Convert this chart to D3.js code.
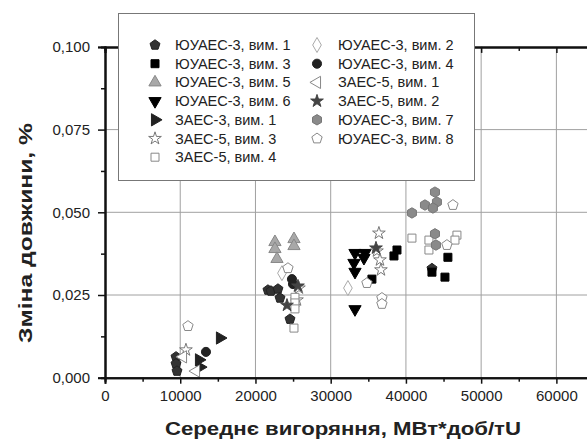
<!DOCTYPE html>
<html>
<head>
<meta charset="utf-8">
<script src="https://cdn.jsdelivr.net/npm/d3@7"></script>
<style>
  body { margin: 0; background: #fff; }
  text { font-family: "Liberation Sans", Arial, sans-serif; fill: #222; }
</style>
</head>
<body>
<div id="chart"></div>
<script>
const width = 587;
const height = 443;

// burnup (MW*day/tU), length change (%)
const yuaes3_1 = [[9440, 0.0063], [9440, 0.0042], [9570, 0.0020], [21660, 0.0265], [22060, 0.0262], [22990, 0.0268], [23260, 0.0241], [24590, 0.0177], [43460, 0.0330]];
const yuaes3_2 = [[23520, 0.0316], [32290, 0.0271]];
const yuaes3_3 = [[38810, 0.0386], [38410, 0.0368], [35480, 0.0298], [45580, 0.0364], [45190, 0.0304], [43460, 0.0319]];
const yuaes3_4 = [[13420, 0.0078], [24850, 0.0298], [24990, 0.0283]];
const yuaes3_5 = [[22590, 0.0410], [22590, 0.0389], [22860, 0.0359], [25120, 0.0419], [25120, 0.0398]];
const yuaes3_6 = [[33230, 0.0377], [34560, 0.0377], [34420, 0.0362], [33090, 0.0347], [33230, 0.0320], [33230, 0.0207]];
const zaes3_1 = [[15280, 0.0120], [12490, 0.0054], [12630, 0.0032]];
const zaes5_3 = [[10760, 0.0084], [25780, 0.0271], [25520, 0.0235], [36410, 0.0437], [36150, 0.0383], [36680, 0.0326], [36550, 0.0356]];
const zaes5_4 = [[25250, 0.0243], [25250, 0.0226], [25250, 0.0208], [25120, 0.0150], [40800, 0.0422], [43060, 0.0416], [43060, 0.0386], [46780, 0.0431], [46520, 0.0416]];
const zaes5_1 = [[12100, 0.0020], [10370, 0.0063]];
const zaes5_2 = [[25650, 0.0277], [24190, 0.0219], [36020, 0.0392]];
const yuaes3_7 = [[43860, 0.0561], [44120, 0.0531], [42530, 0.0522], [43590, 0.0513], [40800, 0.0498], [43860, 0.0435], [43990, 0.0401]];
const yuaes3_8 = [[11030, 0.0156], [24320, 0.0331], [34820, 0.0286], [36810, 0.0241], [36810, 0.0223], [46250, 0.0522], [45450, 0.0401]];

const xTicks = [0, 10000, 20000, 30000, 40000, 50000, 60000];
const yTicks = [0, 0.025, 0.05, 0.075, 0.1];

// polygon symbol for pentagon / hexagon
function polygon(n) {
    return {
        draw(context, size) {
            const r = Math.sqrt(2 * size / (n * Math.sin(2 * Math.PI / n)));
            for (let i = 0; i < n; i++) {
                const a = -Math.PI / 2 + i * 2 * Math.PI / n;
                const x = r * Math.cos(a), y = r * Math.sin(a);
                if (i === 0) context.moveTo(x, y); else context.lineTo(x, y);
            }
            context.closePath();
        }
    };
}

const series = [
    {name: "ЮУАЕС-3, вим. 1", data: yuaes3_1, type: polygon(5), size: 65, rot: 0, fill: "#333", stroke: "#222"},
    {name: "ЮУАЕС-3, вим. 3", data: yuaes3_3, type: d3.symbolSquare, size: 64, rot: 0, fill: "#000", stroke: "#000"},
    {name: "ЮУАЕС-3, вим. 5", data: yuaes3_5, type: d3.symbolTriangle, size: 65, rot: 0, fill: "#a8a8a8", stroke: "#888"},
    {name: "ЮУАЕС-3, вим. 6", data: yuaes3_6, type: d3.symbolTriangle, size: 65, rot: 180, fill: "#000", stroke: "#000"},
    {name: "ЗАЕС-3, вим. 1", data: zaes3_1, type: d3.symbolTriangle, size: 65, rot: 90, fill: "#222", stroke: "#222"},
    {name: "ЗАЕС-5, вим. 3", data: zaes5_3, type: d3.symbolStar, size: 50, rot: 0, fill: "#fff", stroke: "#777"},
    {name: "ЗАЕС-5, вим. 4", data: zaes5_4, type: d3.symbolSquare, size: 64, rot: 0, fill: "#fff", stroke: "#888"},
    {name: "ЮУАЕС-3, вим. 2", data: yuaes3_2, type: d3.symbolDiamond, size: 65, rot: 0, fill: "#fff", stroke: "#aaa"},
    {name: "ЮУАЕС-3, вим. 4", data: yuaes3_4, type: d3.symbolCircle, size: 65, rot: 0, fill: "#222", stroke: "#222"},
    {name: "ЗАЕС-5, вим. 1", data: zaes5_1, type: d3.symbolTriangle, size: 65, rot: -90, fill: "#fff", stroke: "#888"},
    {name: "ЗАЕС-5, вим. 2", data: zaes5_2, type: d3.symbolStar, size: 50, rot: 0, fill: "#444", stroke: "#444"},
    {name: "ЮУАЕС-3, вим. 7", data: yuaes3_7, type: polygon(6), size: 70, rot: 0, fill: "#8a8a8a", stroke: "#777"},
    {name: "ЮУАЕС-3, вим. 8", data: yuaes3_8, type: polygon(5), size: 70, rot: 0, fill: "#fff", stroke: "#888"}
];

const svg = d3.select("#chart").append("svg")
    .attr("width", width)
    .attr("height", height);

const xScale = d3.scaleLinear().domain([0, 65000]).range([105, 594]);
const yScale = d3.scaleLinear().domain([0, 0.1]).range([377.7, 46.9]);
const x0 = xScale(0), x1 = xScale(65000);
const y0 = yScale(0), y1 = yScale(0.1);

// grid
const grid = svg.append("g");
xTicks.filter(d => d > 0).forEach(v => {
    grid.append("line")
        .attr("x1", xScale(v)).attr("x2", xScale(v))
        .attr("y1", y0).attr("y2", y1)
        .attr("stroke", "#a0a0a0").attr("stroke-width", 1);
});
yTicks.filter(d => d > 0 && d < 0.1).forEach(v => {
    grid.append("line")
        .attr("x1", x0).attr("x2", x1)
        .attr("y1", yScale(v)).attr("y2", yScale(v))
        .attr("stroke", "#a0a0a0").attr("stroke-width", 1);
});

// points
series.forEach(s => {
    const sym = d3.symbol().type(s.type).size(s.size);
    svg.append("g").selectAll("path")
        .data(s.data)
        .enter().append("path")
        .attr("d", sym)
        .attr("transform", d => `translate(${xScale(d[0])},${yScale(d[1])}) rotate(${s.rot})`)
        .attr("fill", s.fill)
        .attr("stroke", s.stroke)
        .attr("stroke-width", 1);
});

// axes
const fmtY = d3.formatLocale({decimal: ",", thousands: "", grouping: [3], currency: ["", ""]}).format(".3f");
const xMinor = d3.range(5000, 65000, 10000);
const yMinor = [0.0125, 0.0375, 0.0625, 0.0875];

function styleAxis(g) {
    g.select(".domain").attr("stroke", "#111").attr("stroke-width", 2);
    g.selectAll(".tick line").attr("stroke", "#111").attr("stroke-width", 1.5);
    g.selectAll(".tick text")
        .attr("font-size", 15)
        .attr("font-family", "Liberation Sans, Arial, sans-serif")
        .attr("fill", "#222");
}

svg.append("g")
    .attr("transform", `translate(0,${y0})`)
    .call(d3.axisBottom(xScale).tickValues(xMinor).tickSize(4).tickFormat(""))
    .call(styleAxis);
svg.append("g")
    .attr("transform", `translate(0,${y0})`)
    .call(d3.axisBottom(xScale).tickValues(xTicks).tickSize(6).tickPadding(7).tickFormat(d3.format("d")))
    .call(styleAxis);

svg.append("g")
    .attr("transform", `translate(${x0},0)`)
    .call(d3.axisLeft(yScale).tickValues(yMinor).tickSize(4).tickFormat(""))
    .call(styleAxis);
svg.append("g")
    .attr("transform", `translate(${x0},0)`)
    .call(d3.axisLeft(yScale).tickValues(yTicks).tickSize(7).tickPadding(8).tickFormat(fmtY))
    .call(styleAxis);

// top axis, ticks inward
svg.append("g")
    .attr("transform", `translate(0,${y1})`)
    .call(d3.axisBottom(xScale).tickValues(xMinor).tickSize(4).tickFormat(""))
    .call(styleAxis);
svg.append("g")
    .attr("transform", `translate(0,${y1})`)
    .call(d3.axisBottom(xScale).tickValues(xTicks).tickSize(6).tickFormat(""))
    .call(styleAxis);

// axis titles
svg.append("text")
    .attr("x", 343)
    .attr("y", 435)
    .attr("text-anchor", "middle")
    .attr("font-size", 19)
    .attr("font-weight", "bold")
    .attr("fill", "#111")
    .attr("textLength", 356)
    .attr("lengthAdjust", "spacingAndGlyphs")
    .text("Середнє вигоряння, МВт*доб/тU");

svg.append("text")
    .attr("transform", `translate(32,233) rotate(-90)`)
    .attr("text-anchor", "middle")
    .attr("font-size", 19)
    .attr("font-weight", "bold")
    .attr("fill", "#111")
    .attr("textLength", 220)
    .attr("lengthAdjust", "spacingAndGlyphs")
    .text("Зміна довжини, %");

// legend
const legend = svg.append("g");
legend.append("rect")
    .attr("x", 118.5).attr("y", 13.5)
    .attr("width", 356).attr("height", 167)
    .attr("fill", "#fff")
    .attr("stroke", "#777")
    .attr("stroke-width", 1);

series.forEach((s, i) => {
    const col = i < 7 ? 0 : 1;
    const row = i < 7 ? i : i - 7;
    const sx = col === 0 ? 155 : 317;
    const tx = col === 0 ? 175 : 338;
    const ly = 45 + row * 18.7;
    legend.append("path")
        .attr("d", d3.symbol().type(s.type).size(s.size)())
        .attr("transform", `translate(${sx},${ly}) rotate(${s.rot})`)
        .attr("fill", s.fill)
        .attr("stroke", s.stroke);
    legend.append("text")
        .attr("x", tx)
        .attr("y", ly)
        .attr("dy", "0.35em")
        .attr("font-size", 14.5)
        .attr("fill", "#222")
        .text(s.name);
});
</script>
</body>
</html>
